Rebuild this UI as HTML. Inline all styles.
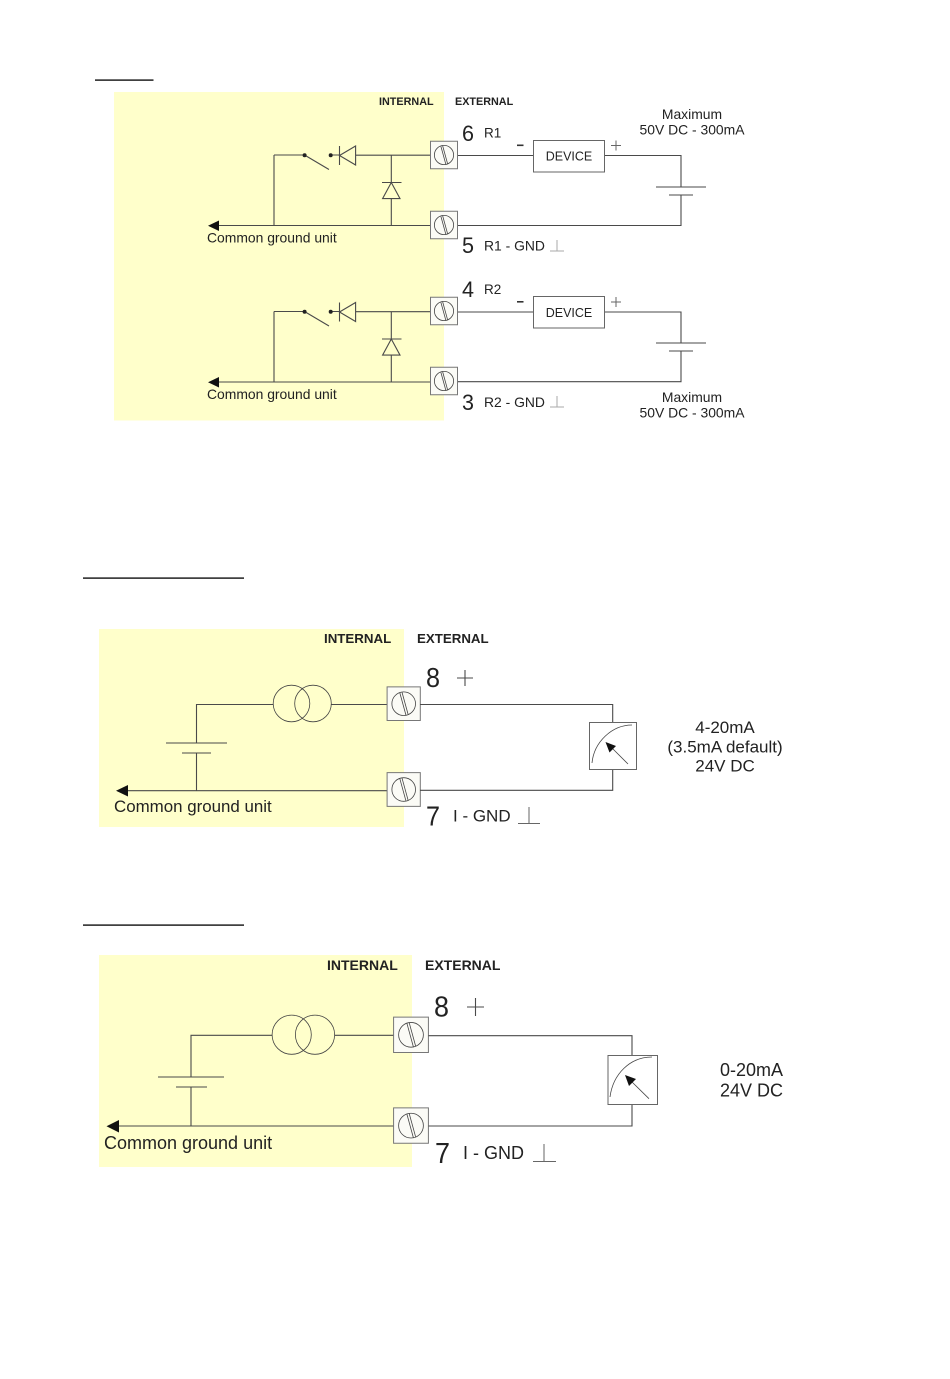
<!DOCTYPE html>
<html lang="en">
<head>
<meta charset="utf-8">
<title>Wiring diagrams</title>
<style>
html,body{margin:0;padding:0;background:#fff;width:950px;height:1379px;overflow:hidden}
svg{display:block}
text{font-family:"Liberation Sans",Arial,sans-serif;fill:#222}
.w{stroke:#4a4a4a;stroke-width:1.1;fill:none}
.t{stroke:#777;stroke-width:1;fill:#fbfbf6;vector-effect:non-scaling-stroke}
.c{stroke:#444;stroke-width:.8;fill:none;vector-effect:non-scaling-stroke}
.g{stroke:#aaa;stroke-width:1;fill:none}
.g2{stroke:#666;stroke-width:1;fill:none}
.m{text-anchor:middle}
.b{font-weight:bold}
</style>
</head>
<body>
<svg width="950" height="1379" viewBox="0 0 950 1379" xmlns="http://www.w3.org/2000/svg">
<defs>
  <g id="term">
    <rect class="t" x="-13.5" y="-13.7" width="27" height="27.4"/>
    <circle class="c" cx="0" cy="0" r="9.6"/>
    <path class="c" d="M-3.2,-9 L1.8,9.2 M-1.4,-9.4 L3.6,8.8"/>
  </g>
  <g id="relay">
    <path class="w" d="M274,155 V225 M274,155 H304.5 M304.5,155 L329,169.5 M331,155 H339.5"/>
    <circle cx="304.6" cy="155.2" r="2" fill="#222"/>
    <circle cx="330.7" cy="155.2" r="2" fill="#222"/>
    <path class="w" d="M339.5,146 V165 M339.5,155.5 L355.6,146 V165 Z M355.6,155.2 H431"/>
    <path class="w" d="M391.3,155 V182.3 M382,182.5 H401.5 M391.3,182.5 L382.6,198.6 H400 Z M391.3,198.6 V225"/>
    <path class="w" d="M218,225.5 H431"/>
    <path d="M208,225.8 L219,220.5 V231 Z" fill="#111"/>
    <text x="207" y="242.5" font-size="13.9">Common ground unit</text>
  </g>
</defs>

<!-- Section 1 -->
<rect x="95" y="79.4" width="58.5" height="1.4" fill="#111"/>
<rect x="114" y="92" width="330" height="328.5" fill="#ffffcb"/>
<text class="b" x="379" y="105" font-size="10.8">INTERNAL</text>
<text class="b" x="455" y="105" font-size="10.8">EXTERNAL</text>

<use href="#relay"/>
<use href="#term" x="444" y="155"/>
<use href="#term" x="444" y="225"/>
<path class="w" d="M458,155.5 H533 M605,155.5 H681 V187 M656,187 H706 M669,195 H693 M681,195 V225.5 H458"/>
<rect class="g2" x="533.5" y="140.5" width="71" height="31.5" fill="#fff"/>
<text class="m" x="569" y="160.5" font-size="12.5">DEVICE</text>
<text x="462" y="141" font-size="22" textLength="12" lengthAdjust="spacingAndGlyphs">6</text>
<text x="484" y="137.5" font-size="13.5">R1</text>
<rect x="517" y="144.5" width="6.5" height="1.6" fill="#333"/>
<path class="g2" d="M611,145.5 H621 M616,140.5 V150.5"/>
<text class="m" x="692" y="119" font-size="13.9">Maximum</text>
<text class="m" x="692" y="134.5" font-size="13.9">50V DC - 300mA</text>
<text x="462" y="253" font-size="22" textLength="12" lengthAdjust="spacingAndGlyphs">5</text>
<text x="484" y="250.5" font-size="13.9">R1 - GND</text>
<path class="g" d="M557,240 V251 M550,251 H564"/>

<use href="#relay" y="156.5"/>
<use href="#term" x="444" y="311"/>
<use href="#term" x="444" y="381"/>
<path class="w" d="M458,312 H533 M605,312 H681 V343 M656,343 H706 M669,351 H693 M681,351 V381.7 H458"/>
<rect class="g2" x="533.5" y="296.5" width="71" height="31.5" fill="#fff"/>
<text class="m" x="569" y="317" font-size="12.5">DEVICE</text>
<text x="462" y="297" font-size="22" textLength="12" lengthAdjust="spacingAndGlyphs">4</text>
<text x="484" y="294" font-size="13.5">R2</text>
<rect x="517" y="301" width="6.5" height="1.6" fill="#333"/>
<path class="g2" d="M611,302 H621 M616,297 V307"/>
<text class="m" x="692" y="402" font-size="13.9">Maximum</text>
<text class="m" x="692" y="417.5" font-size="13.9">50V DC - 300mA</text>
<text x="462" y="410" font-size="22" textLength="12" lengthAdjust="spacingAndGlyphs">3</text>
<text x="484" y="407" font-size="13.9">R2 - GND</text>
<path class="g" d="M557,396 V407 M550,407 H564"/>

<!-- Section 2 -->
<rect x="83" y="577.4" width="161" height="1.4" fill="#111"/>
<rect x="99" y="629" width="305" height="198" fill="#ffffcb"/>
<text class="b" x="324" y="643" font-size="13.3">INTERNAL</text>
<text class="b" x="417" y="643" font-size="13.3">EXTERNAL</text>
<path class="w" d="M273,704.5 H196.5 V743 M166,743 H227 M182,753 H211 M196.5,753 V790.7 M128,790.7 H387 M331,704.5 H387"/>
<circle class="c" cx="291.5" cy="703.5" r="18.3"/>
<circle class="c" cx="313" cy="703.5" r="18.3"/>
<path d="M116,790.8 L128,785 V796.5 Z" fill="#111"/>
<text x="114" y="812" font-size="16.9">Common ground unit</text>
<use href="#term" transform="translate(403.7,703.7) scale(1.23)"/>
<use href="#term" transform="translate(403.7,789.5) scale(1.23)"/>
<path class="w" d="M420,704.5 H612.7 V722 M612.7,769 V790.3 H420"/>
<rect class="g2" x="589.5" y="722.5" width="47" height="47" fill="#fff"/>
<path class="c" d="M592,763 C594,742 612,725 632,725"/>
<path class="c" d="M628,764 L610,746"/>
<path d="M605.5,742 L616,746 L609.5,752.5 Z" fill="#111"/>
<text x="426" y="687" font-size="28" textLength="14" lengthAdjust="spacingAndGlyphs">8</text>
<path class="w" d="M457,678 H473 M465,670 V686"/>
<text x="426" y="825.5" font-size="28" textLength="14" lengthAdjust="spacingAndGlyphs">7</text>
<text x="453" y="821.5" font-size="17">I - GND</text>
<path class="g2" d="M529,807 V823 M518,823.5 H540"/>
<text class="m" x="725" y="733" font-size="17">4-20mA</text>
<text class="m" x="725" y="752.5" font-size="17">(3.5mA default)</text>
<text class="m" x="725" y="771.5" font-size="17">24V DC</text>

<!-- Section 3 -->
<rect x="83" y="924.4" width="161" height="1.4" fill="#111"/>
<rect x="99" y="955" width="313" height="212" fill="#ffffcb"/>
<text class="b" x="327" y="970" font-size="14">INTERNAL</text>
<text class="b" x="425" y="970" font-size="14">EXTERNAL</text>
<path class="w" d="M272,1035.3 H191 V1077 M158,1077 H224 M176,1087 H207 M191,1087 V1126 M119,1126 H394 M335,1035.3 H394"/>
<circle class="c" cx="291.7" cy="1034.7" r="19.6"/>
<circle class="c" cx="315" cy="1034.7" r="19.6"/>
<path d="M106.5,1126.3 L119,1120 V1132.5 Z" fill="#111"/>
<text x="104" y="1149" font-size="18">Common ground unit</text>
<use href="#term" transform="translate(411,1034.8) scale(1.29)"/>
<use href="#term" transform="translate(411,1125.6) scale(1.29)"/>
<path class="w" d="M428.5,1035.7 H632 V1055 M632,1104.5 V1126 H428.5"/>
<rect class="g2" x="608" y="1055.5" width="49.5" height="49" fill="#fff"/>
<path class="c" d="M610,1097 C613,1074 630,1057 652,1057"/>
<path class="c" d="M649,1098.7 L630,1080"/>
<path d="M625,1075 L636,1079 L629,1086 Z" fill="#111"/>
<text x="434" y="1016.5" font-size="29" textLength="15" lengthAdjust="spacingAndGlyphs">8</text>
<path class="w" d="M467,1007 H484 M475.5,998 V1016"/>
<text x="435" y="1163" font-size="29" textLength="15" lengthAdjust="spacingAndGlyphs">7</text>
<text x="463" y="1159" font-size="18">I - GND</text>
<path class="g2" d="M544,1144 V1161 M533,1161.5 H556"/>
<text x="720" y="1076" font-size="18">0-20mA</text>
<text x="720" y="1096.5" font-size="18">24V DC</text>
</svg>
</body>
</html>
